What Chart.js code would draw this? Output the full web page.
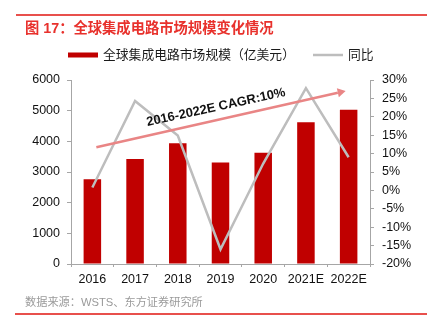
<!DOCTYPE html>
<html>
<head>
<meta charset="utf-8">
<script src="https://cdn.jsdelivr.net/npm/chart.js@4.4.0/dist/chart.umd.min.js"></script>
<style>
html,body{margin:0;padding:0;background:#fff;}
#wrap{position:relative;width:437px;height:324px;}
canvas{display:block;position:absolute;left:0;top:0;}
.rule{position:absolute;height:2px;background:#e8504c;}
</style>
</head>
<body>
<div id="wrap">
<canvas id="c" width="437" height="324"></canvas>
<div class="rule" style="left:16px;top:14px;width:411px;"></div>
<div class="rule" style="left:15px;top:313px;width:412px;"></div>
</div>
<script>
const categories = ['2016','2017','2018','2019','2020','2021E','2022E'];
const marketSize = [2765, 3425, 3935, 3310, 3625, 4620, 5030];
const yoyGrowth = [0.8, 24.3, 14.9, -16.0, 7.3, 27.8, 9.0];
const leftTicks = [0, 1000, 2000, 3000, 4000, 5000, 6000];
const rightTicks = [-20, -15, -10, -5, 0, 5, 10, 15, 20, 25, 30];
const titleText = '图 17：全球集成电路市场规模变化情况';
const sourceText = '数据来源：WSTS、东方证券研究所';
const barLabel = '全球集成电路市场规模（亿美元）';
const lineLabel = '同比';
const cagrText = '2016-2022E CAGR:10%';

const FONT = '"Liberation Sans", Arial, "Noto Sans CJK SC", sans-serif';
const CJK = '"Liberation Sans", "Noto Sans CJK SC", sans-serif';
const AXIS = '#a6a6a6';

const decor = {
  id: 'decor',
  afterDraw(chart) {
    const ctx = chart.ctx;
    ctx.save();
    // title
    ctx.fillStyle = '#e8312c';
    ctx.font = 'bold 14.3px ' + CJK;
    ctx.textBaseline = 'alphabetic';
    ctx.textAlign = 'left';
    ctx.fillText(titleText, 25, 32.5);
    ctx.textBaseline = 'middle';
    // legend
    ctx.fillStyle = '#c00000';
    ctx.fillRect(68, 52.5, 30, 5);
    ctx.fillStyle = '#1a1a1a';
    ctx.font = '12.8px ' + CJK;
    ctx.fillText(barLabel, 103, 55.5);
    ctx.strokeStyle = '#bdbdbd';
    ctx.lineWidth = 2.5;
    ctx.beginPath(); ctx.moveTo(313, 55); ctx.lineTo(343, 55); ctx.stroke();
    ctx.fillText(lineLabel, 348, 55.5);
    // source
    ctx.fillStyle = '#9a9a9a';
    ctx.font = '11.2px ' + CJK;
    ctx.fillText(sourceText, 25, 303);

    // CAGR arrow, anchored to the category scale
    const x = chart.scales.x;
    const x0 = x.getPixelForValue(0) + 4;
    const x1 = x.getPixelForValue(6) - 3;
    const y0 = 147.3, y1 = 91;
    const ang = Math.atan2(y1 - y0, x1 - x0);
    ctx.strokeStyle = '#e98585';
    ctx.fillStyle = '#e98585';
    ctx.lineWidth = 2.5;
    const hx = x1 - 8 * Math.cos(ang), hy = y1 - 8 * Math.sin(ang);
    ctx.beginPath(); ctx.moveTo(x0, y0); ctx.lineTo(hx, hy); ctx.stroke();
    ctx.beginPath();
    ctx.moveTo(x1, y1);
    ctx.lineTo(hx + 4.5 * Math.sin(ang), hy - 4.5 * Math.cos(ang));
    ctx.lineTo(hx - 4.5 * Math.sin(ang), hy + 4.5 * Math.cos(ang));
    ctx.closePath(); ctx.fill();
    // CAGR text
    ctx.translate(216, 107.5);
    ctx.rotate(-12.3 * Math.PI / 180);
    ctx.fillStyle = '#111';
    ctx.font = 'bold 12.9px ' + FONT;
    ctx.textAlign = 'center';
    ctx.fillText(cagrText, 0, 0);
    ctx.restore();
  }
};

new Chart(document.getElementById('c'), {
  data: {
    labels: categories,
    datasets: [
      {
        type: 'line', label: lineLabel, data: yoyGrowth, yAxisID: 'y1',
        borderColor: '#bdbdbd', borderWidth: 2.5, pointRadius: 0, tension: 0, order: 0
      },
      {
        type: 'bar', label: barLabel, data: marketSize, yAxisID: 'y',
        backgroundColor: '#c00000', categoryPercentage: 1, barPercentage: 0.41, order: 1
      }
    ]
  },
  plugins: [decor],
  options: {
    responsive: false,
    animation: false,
    events: [],
    layout: { padding: { top: 80, left: 0, right: 0, bottom: 0 } },
    plugins: { legend: { display: false }, title: { display: false }, tooltip: { enabled: false } },
    scales: {
      x: {
        offset: true,
        grid: { offset: true, drawOnChartArea: false, drawTicks: true, tickLength: 3, color: AXIS },
        border: { color: AXIS, width: 1 },
        ticks: { color: '#111', font: { family: FONT, size: 12.5 }, padding: 5, maxRotation: 0 },
        afterFit(s) { s.height = 60; }
      },
      y: {
        position: 'left', min: 0, max: 6000,
        afterBuildTicks(s) { s.ticks = leftTicks.map(v => ({ value: v })); },
        grid: { drawOnChartArea: false, tickLength: 4, color: AXIS },
        border: { color: AXIS, width: 1 },
        ticks: { color: '#111', font: { family: FONT, size: 12.5 }, padding: 7, callback: v => String(v) },
        afterFit(s) { s.width = 71; }
      },
      y1: {
        position: 'right', min: -20, max: 30,
        afterBuildTicks(s) { s.ticks = rightTicks.map(v => ({ value: v })); },
        grid: { drawOnChartArea: false, tickLength: 4, color: AXIS },
        border: { color: AXIS, width: 1 },
        ticks: { color: '#111', font: { family: FONT, size: 12.5 }, padding: 8, callback: v => v + '%' },
        afterFit(s) { s.width = 67; }
      }
    }
  }
});
</script>
</body>
</html>
